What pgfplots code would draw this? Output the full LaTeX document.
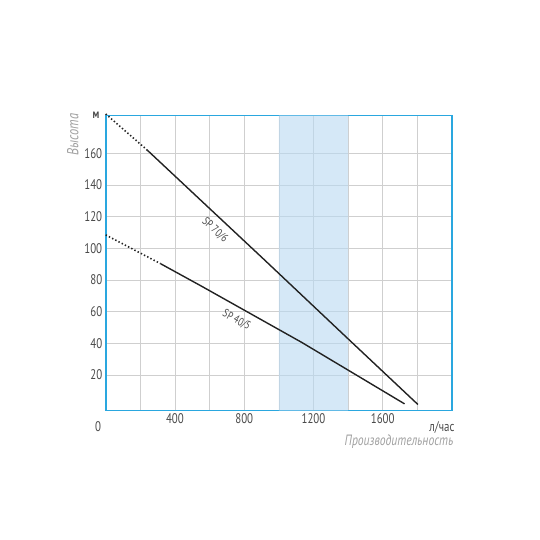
\documentclass[border=0pt]{standalone}
\usepackage{pgfplots}
\pgfplotsset{compat=1.18}
\usepackage{fontspec}
\setmainfont[FakeStretch=0.78]{PT Sans}
\definecolor{frame}{HTML}{2AA7DF}
\definecolor{shade}{HTML}{B9D9F2}
\definecolor{gridc}{HTML}{CFCFCF}
\definecolor{tickc}{HTML}{4A4A4A}
\definecolor{titlec}{HTML}{A0A0A0}
\definecolor{curve}{HTML}{222222}
\begin{document}
\begin{tikzpicture}
\path[use as bounding box] (-105.7bp,-129.5bp) rectangle (434.3bp,410.5bp);
\begin{axis}[
  at={(0bp,0bp)}, anchor=south west,
  scale only axis, width=346.3bp, height=295bp,
  xmin=0, xmax=2000, ymin=-2.5, ymax=184,
  xtick={200,400,...,1800},
  xticklabels={,400,,800,,1200,,1600,},
  ytick={20,40,...,160},
  major tick length=0pt,
  grid=major,
  major grid style={gridc, line width=0.6bp},
  axis line style={frame, line width=1.8bp},
  tick label style={font=\fontsize{14}{14}\selectfont, text=tickc},
  /pgf/number format/assume math mode=true,
  /pgf/number format/1000 sep={},
  clip=false,
]
\addplot[fill=shade, fill opacity=0.6, draw=none] coordinates {(1000,-2.5) (1400,-2.5) (1400,184) (1000,184) (1000,-2.5)};
% SP 70/6
\addplot[curve, line width=1.6bp, dash pattern=on 1.4bp off 2.2bp] coordinates {(0,185) (241,162)};
\addplot[curve, line width=1.4bp] coordinates {(241,162) (919,92.5) (1396,43.2) (1803,1.3)};
% SP 40/5
\addplot[curve, line width=1.6bp, dash pattern=on 1.4bp off 2.2bp] coordinates {(0,108.5) (317,90.3)};
\addplot[curve, line width=1.4bp] coordinates {(317,90.3) (550,76.3) (1133,40.5) (1726,1.7)};
\node[rotate=-42, text=tickc, font=\fontsize{11.5}{11.5}\selectfont] at (axis cs:631,111.4) {SP 70/6};
\node[rotate=-29, text=tickc, font=\fontsize{11.5}{11.5}\selectfont] at (axis cs:756,54.6) {SP 40/5};
\node[text=tickc, font=\fontsize{14}{14}\selectfont] at (axis cs:-44,-13) {0};
\node[text=tickc, font=\fontsize{14}{14}\selectfont] at (axis cs:1942,-13) {л/час};
\node[text=tickc, font=\bfseries\fontsize{13}{13}\selectfont, anchor=east] at (axis cs:-16,184) {м};
\node[text=titlec, font=\itshape\fontsize{15}{15}\selectfont, anchor=east] at (axis cs:2028,-22.5) {Производительность};
\node[text=titlec, font=\itshape\fontsize{16}{16}\selectfont, rotate=90] at (axis cs:-190,172) {Высота};
\end{axis}
\end{tikzpicture}
\end{document}
